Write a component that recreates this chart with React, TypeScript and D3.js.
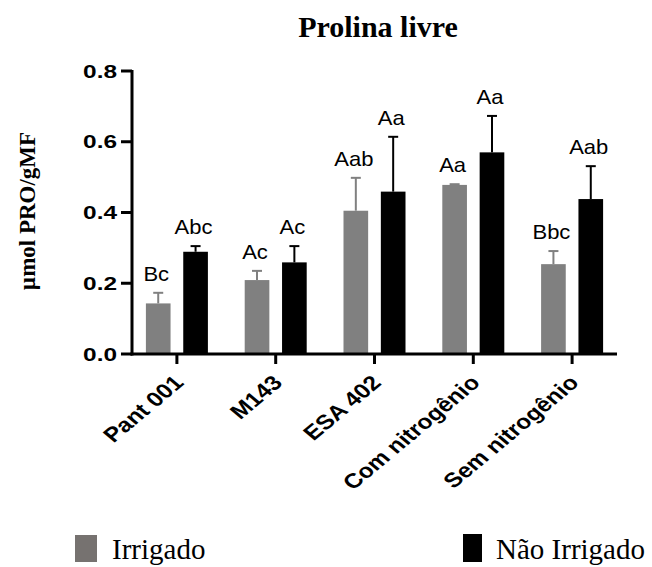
import * as d3 from "d3"

const categories = ["Pant 001", "M143", "ESA 402", "Com nitrogênio", "Sem nitrogênio"]
const series = ["Irrigado", "Não Irrigado"]
const irrigado = [0.143, 0.209, 0.405, 0.478, 0.254]
const irrigadoErr = [0.03, 0.026, 0.093, 0.002, 0.037]
const naoIrrigado = [0.289, 0.259, 0.459, 0.57, 0.438]
const naoIrrigadoErr = [0.016, 0.046, 0.155, 0.103, 0.093]
const irrigadoLabels = ["Bc", "Ac", "Aab", "Aa", "Bbc"]
const naoIrrigadoLabels = ["Abc", "Ac", "Aa", "Aa", "Aab"]
const yTicks = [0, 0.2, 0.4, 0.6, 0.8]

const colors = ["#808080", "#000000"]
const sans = "'Liberation Sans', Arial, sans-serif"
const serif = "'Liberation Serif', 'Times New Roman', serif"

export default function App() {
  const width = 652
  const height = 567
  const axisLeft = 132
  const axisRight = 617
  const y0 = 354

  const x = d3.scaleBand().domain(categories).range([127.5, 621.5])
  const y = d3.scaleLinear().domain([0, 0.8]).range([y0, 71])
  const sub = d3.scaleBand().domain(series).range([-31, 31]).paddingInner(0.34).paddingOuter(0)

  const groups = [
    { name: series[0], values: irrigado, err: irrigadoErr, labels: irrigadoLabels, color: colors[0] },
    { name: series[1], values: naoIrrigado, err: naoIrrigadoErr, labels: naoIrrigadoLabels, color: colors[1] },
  ]

  const bw = sub.bandwidth()

  return (
    <svg width={width} height={height} style={{ position: "absolute", left: 0, top: 0 }}>
      <rect width={width} height={height} fill="#fff" />
      <text x={378} y={37} textAnchor="middle" fontFamily={serif} fontWeight="bold" fontSize={30}>
        Prolina livre
      </text>
      <text
        transform={`translate(35,211) rotate(-90)`}
        textAnchor="middle"
        fontFamily={serif}
        fontWeight="bold"
        fontSize={23}
      >
        µmol PRO/gMF
      </text>

      {groups.map((g) =>
        categories.map((c, i) => {
          const cx = (x(c) as number) + x.bandwidth() / 2 + (sub(g.name) as number) + bw / 2
          const top = y(g.values[i])
          const errTop = y(g.values[i] + g.err[i])
          return (
            <g key={g.name + c}>
              <line x1={cx} x2={cx} y1={top} y2={errTop} stroke={g.color} strokeWidth={2} />
              <line x1={cx - 5} x2={cx + 5} y1={errTop} y2={errTop} stroke={g.color} strokeWidth={2} />
              <rect x={cx - bw / 2} y={top} width={bw} height={y0 - top} fill={g.color} />
              <text
                transform={`translate(${cx - 2},${errTop - 12}) scale(1.1,1)`}
                textAnchor="middle"
                fontFamily={sans}
                fontSize={20}
              >
                {g.labels[i]}
              </text>
            </g>
          )
        })
      )}

      {/* axes */}
      <line x1={axisLeft} x2={axisLeft} y1={y(0.8) - 1} y2={y0 + 1.5} stroke="#000" strokeWidth={3} />
      <line x1={axisLeft - 1.5} x2={axisRight} y1={y0} y2={y0} stroke="#000" strokeWidth={3} />
      {yTicks.map((t) => (
        <g key={t}>
          <line x1={axisLeft - 11} x2={axisLeft} y1={y(t)} y2={y(t)} stroke="#000" strokeWidth={3} />
          <text
            transform={`translate(${axisLeft - 15},${y(t)}) scale(1.32,1)`}
            dy="0.36em"
            textAnchor="end"
            fontFamily={sans}
            fontWeight="bold"
            fontSize={18.5}
          >
            {t.toFixed(1)}
          </text>
        </g>
      ))}
      {categories.map((c) => {
        const cx = (x(c) as number) + x.bandwidth() / 2
        return (
          <g key={c}>
            <line x1={cx} x2={cx} y1={y0} y2={y0 + 10} stroke="#000" strokeWidth={3} />
            <text
              transform={`translate(${cx + 8},${y0 + 30}) scale(1.2,1) rotate(-45)`}
              textAnchor="end"
              fontFamily={sans}
              fontWeight="bold"
              fontSize={20.5}
            >
              {c}
            </text>
          </g>
        )
      })}

      {/* legend */}
      <rect x={75} y={535} width={22} height={27} fill="#767270" />
      <text x={112} y={559} fontFamily={serif} fontSize={29}>
        {series[0]}
      </text>
      <rect x={463} y={534} width={19} height={28} fill="#000" />
      <text x={496} y={559} fontFamily={serif} fontSize={29}>
        {series[1]}
      </text>
    </svg>
  )
}
